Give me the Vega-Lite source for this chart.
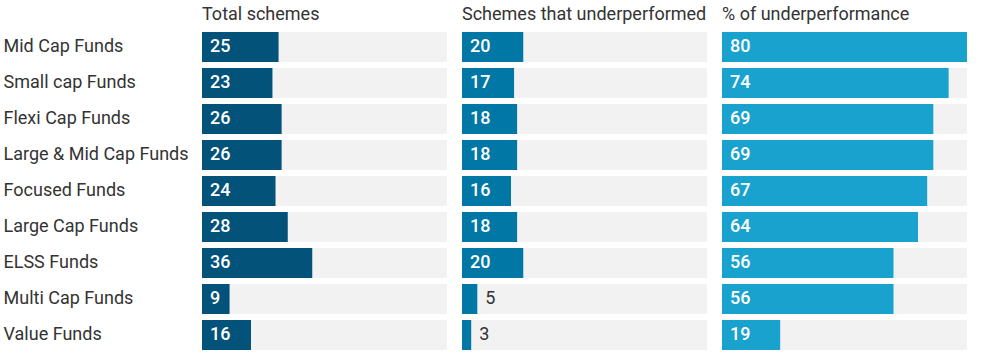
{
  "$schema": "https://vega.github.io/schema/vega-lite/v6.json",
  "padding": {"left": 3, "top": 6, "right": 0, "bottom": 0},
  "background": "white",
  "config": {"view": {"stroke": null}, "font": "Roboto"},
  "data": {"values": [
    {"fund": "Mid Cap Funds", "metric": "Total schemes", "value": 25},
    {"fund": "Small cap Funds", "metric": "Total schemes", "value": 23},
    {"fund": "Flexi Cap Funds", "metric": "Total schemes", "value": 26},
    {"fund": "Large & Mid Cap Funds", "metric": "Total schemes", "value": 26},
    {"fund": "Focused Funds", "metric": "Total schemes", "value": 24},
    {"fund": "Large Cap Funds", "metric": "Total schemes", "value": 28},
    {"fund": "ELSS Funds", "metric": "Total schemes", "value": 36},
    {"fund": "Multi Cap Funds", "metric": "Total schemes", "value": 9},
    {"fund": "Value Funds", "metric": "Total schemes", "value": 16},
    {"fund": "Mid Cap Funds", "metric": "Schemes that underperformed", "value": 20},
    {"fund": "Small cap Funds", "metric": "Schemes that underperformed", "value": 17},
    {"fund": "Flexi Cap Funds", "metric": "Schemes that underperformed", "value": 18},
    {"fund": "Large & Mid Cap Funds", "metric": "Schemes that underperformed", "value": 18},
    {"fund": "Focused Funds", "metric": "Schemes that underperformed", "value": 16},
    {"fund": "Large Cap Funds", "metric": "Schemes that underperformed", "value": 18},
    {"fund": "ELSS Funds", "metric": "Schemes that underperformed", "value": 20},
    {"fund": "Multi Cap Funds", "metric": "Schemes that underperformed", "value": 5},
    {"fund": "Value Funds", "metric": "Schemes that underperformed", "value": 3},
    {"fund": "Mid Cap Funds", "metric": "% of underperformance", "value": 80},
    {"fund": "Small cap Funds", "metric": "% of underperformance", "value": 74},
    {"fund": "Flexi Cap Funds", "metric": "% of underperformance", "value": 69},
    {"fund": "Large & Mid Cap Funds", "metric": "% of underperformance", "value": 69},
    {"fund": "Focused Funds", "metric": "% of underperformance", "value": 67},
    {"fund": "Large Cap Funds", "metric": "% of underperformance", "value": 64},
    {"fund": "ELSS Funds", "metric": "% of underperformance", "value": 56},
    {"fund": "Multi Cap Funds", "metric": "% of underperformance", "value": 56},
    {"fund": "Value Funds", "metric": "% of underperformance", "value": 19}
  ]},
  "facet": {
    "column": {
      "field": "metric",
      "sort": ["Total schemes", "Schemes that underperformed", "% of underperformance"],
      "header": {"title": null, "labelAnchor": "start", "labelAlign": "left", "labelFontSize": 18, "labelFont": "Roboto", "labelColor": "#333333", "labelPadding": 5}
    }
  },
  "spacing": 15,
  "spec": {
    "width": 245,
    "height": 324,
    "encoding": {
      "y": {"field": "fund", "type": "nominal", "sort": null,
        "scale": {"paddingInner": 0.1667, "paddingOuter": 0.0833},
        "axis": {"title": null, "domain": false, "ticks": false, "labelAlign": "left", "labelPadding": 199, "labelFontSize": 18, "labelFont": "Roboto", "labelColor": "#333333", "labelLimit": 200}}
    },
    "layer": [
      {"mark": {"type": "bar", "color": "#f2f2f2"},
       "encoding": {"x": {"datum": 80, "type": "quantitative", "scale": {"domain": [0, 80], "nice": false}, "axis": null}}},
      {"mark": {"type": "bar"},
       "encoding": {
         "x": {"field": "value", "type": "quantitative", "scale": {"domain": [0, 80], "nice": false}, "axis": null},
         "color": {"field": "metric", "type": "nominal", "legend": null,
           "scale": {"domain": ["Total schemes", "Schemes that underperformed", "% of underperformance"], "range": ["#02527A", "#0077A4", "#1AA2CE"]}}
       }},
      {"transform": [{"filter": "datum.value >= 8"}],
       "mark": {"type": "text", "align": "left", "dx": 8, "color": "white", "fontSize": 18, "fontWeight": 500, "font": "Roboto"},
       "encoding": {"x": {"datum": 0, "type": "quantitative"}, "text": {"field": "value", "type": "quantitative"}}},
      {"transform": [{"filter": "datum.value < 8"}],
       "mark": {"type": "text", "align": "left", "dx": 8, "color": "#333333", "fontSize": 18, "font": "Roboto"},
       "encoding": {"x": {"field": "value", "type": "quantitative"}, "text": {"field": "value", "type": "quantitative"}}}
    ]
  },
  "resolve": {"scale": {"x": "shared"}}
}
